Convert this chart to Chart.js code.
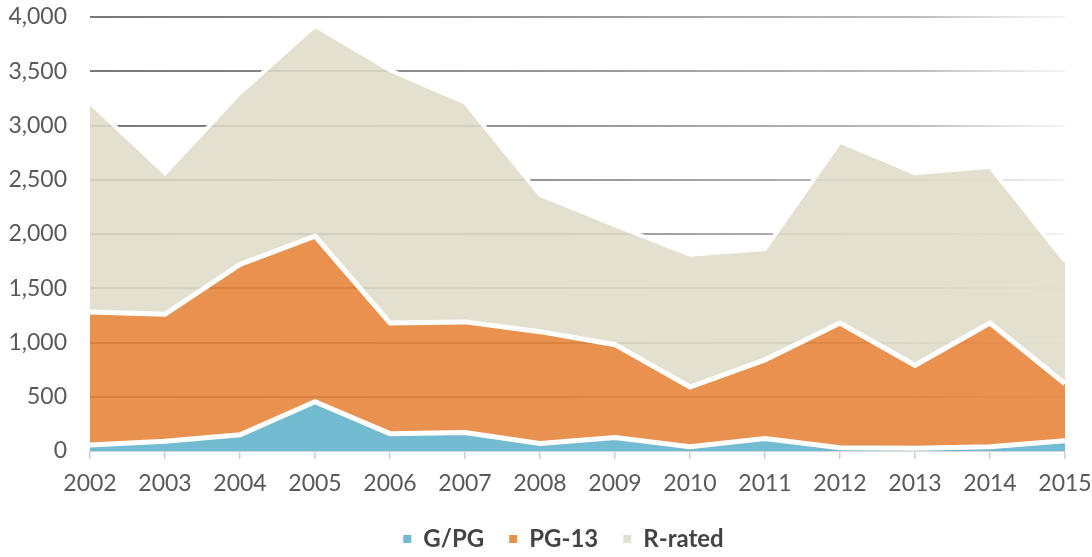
<!DOCTYPE html>
<html>
<head>
<meta charset="utf-8">
<script src="https://cdn.jsdelivr.net/npm/chart.js@4/dist/chart.umd.min.js"></script>
<style>
  html, body { margin: 0; padding: 0; background: #fff; }
  #wrap { width: 1092px; height: 557px; position: relative; }
</style>
</head>
<body>
<div id="wrap"><canvas id="ratingsChart"></canvas></div>
<script>
// Daten
const years = ['2002', '2003', '2004', '2005', '2006', '2007', '2008', '2009', '2010', '2011', '2012', '2013', '2014', '2015'];
const gpgValues = [55, 90, 150, 455, 160, 170, 70, 125, 40, 115, 30, 25, 40, 95];
const pg13Values = [1225, 1170, 1570, 1525, 1020, 1020, 1030, 855, 550, 725, 1150, 765, 1140, 525];
const rRatedValues = [1930, 1300, 1580, 1940, 2330, 2020, 1260, 1100, 1220, 1020, 1670, 1770, 1440, 1130];
const yTicks = [0, 500, 1000, 1500, 2000, 2500, 3000, 3500, 4000];

const fontName = 'Lato, "Open Sans", sans-serif';

// Gitterlinien laufen nach rechts aus
let gridGradient = null;
function gridColor(ctx) {
    const area = ctx.chart.chartArea;
    if (!area) return '#999';
    if (!gridGradient) {
        gridGradient = ctx.chart.ctx.createLinearGradient(area.left, 0, area.right, 0);
        gridGradient.addColorStop(0, '#777777');
        gridGradient.addColorStop(0.5, '#999999');
        gridGradient.addColorStop(0.85, '#bbbbbb');
        gridGradient.addColorStop(1, 'rgba(225,225,225,0.4)');
    }
    return gridGradient;
}

// Legende etwas nach rechts/unten schieben (sitzt im Original nicht ganz mittig)
const legendShift = {
    id: 'legendShift',
    afterLayout(chart) {
        const lg = chart.legend;
        if (lg) {
            lg.left += 31;
            lg.right += 31;
            lg.top += 4;
            lg.bottom += 4;
        }
    }
};

const ctx = document.getElementById('ratingsChart').getContext('2d');
const ratingsChart = new Chart(ctx, {
    type: 'line',
    data: {
        labels: years,
        datasets: [
            {
                label: 'G/PG',
                data: gpgValues,
                backgroundColor: 'rgba(96,178,203,0.88)',
                borderColor: '#ffffff',
                borderWidth: 5,
                fill: 'origin'
            },
            {
                label: 'PG-13',
                data: pg13Values,
                backgroundColor: 'rgba(229,127,50,0.86)',
                borderColor: '#ffffff',
                borderWidth: 5,
                fill: '-1'
            },
            {
                label: 'R-rated',
                data: rRatedValues,
                backgroundColor: 'rgba(222,219,200,0.86)',
                borderColor: '#ffffff',
                borderWidth: 4,
                fill: '-1'
            }
        ]
    },
    options: {
        responsive: true,
        maintainAspectRatio: false,
        animation: false,
        layout: { padding: { top: 0, right: 27, left: 0, bottom: 0 } },
        elements: {
            point: { radius: 0, hoverRadius: 0 },
            line: { tension: 0, borderJoinStyle: 'miter' }
        },
        scales: {
            x: {
                type: 'category',
                offset: false,
                grid: {
                    drawOnChartArea: false,
                    drawTicks: true,
                    tickLength: 8,
                    color: '#d0d0d0',
                    lineWidth: 1.5
                },
                border: { display: true, color: '#d9d9d9', width: 2 },
                ticks: {
                    color: '#595959',
                    font: { family: fontName, size: 23 },
                    padding: 11,
                    maxRotation: 0,
                    autoSkip: false
                },
                afterFit: s => {
                    s.height = 47;
                    s.paddingLeft = 0;
                    s.paddingRight = 0;
                }
            },
            y: {
                stacked: true,
                min: 0,
                max: 4000,
                afterBuildTicks: s => { s.ticks = yTicks.map(v => ({ value: v })); },
                grid: {
                    color: gridColor,
                    lineWidth: 2,
                    drawTicks: false
                },
                border: { display: false },
                ticks: {
                    color: '#595959',
                    font: { family: fontName, size: 23 },
                    padding: 23,
                    callback: v => v.toLocaleString('en-US')
                },
                afterFit: s => {
                    s.width = 90;
                    s.paddingTop = 17;
                    s.paddingBottom = 0;
                }
            }
        },
        plugins: {
            legend: {
                position: 'bottom',
                labels: {
                    boxWidth: 8,
                    boxHeight: 8,
                    padding: 25,
                    color: '#444444',
                    font: { family: fontName, size: 24, weight: 'bold' },
                    generateLabels: chart => {
                        const items = Chart.defaults.plugins.legend.labels.generateLabels(chart);
                        items.forEach(item => { item.lineWidth = 0; item.strokeStyle = 'rgba(0,0,0,0)'; });
                        return items;
                    }
                }
            },
            tooltip: { enabled: false }
        }
    },
    plugins: [legendShift]
});
</script>
</body>
</html>
